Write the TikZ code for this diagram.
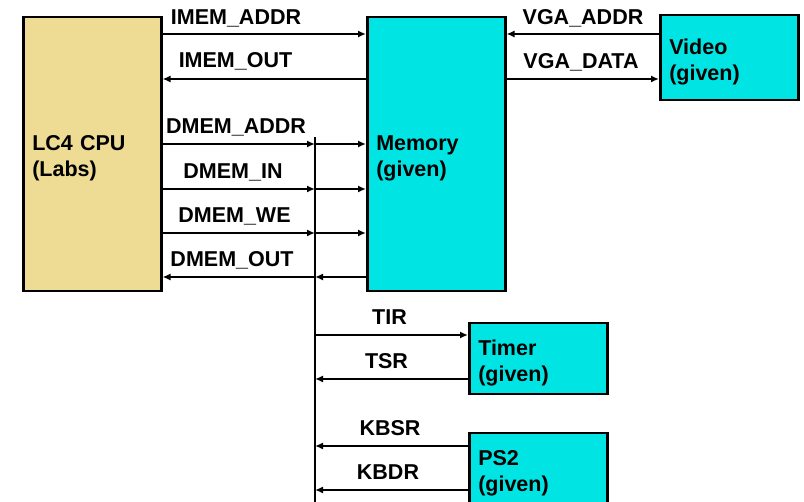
\documentclass[tikz,border=0pt]{standalone}
\usepackage{fontspec}
\setmainfont{Liberation Sans}
\usetikzlibrary{arrows.meta}
\definecolor{cputan}{RGB}{238,220,148}
\definecolor{unitcyan}{RGB}{0,228,228}

\begin{document}
\begin{tikzpicture}[x=1pt,y=-1pt,
		unit/.style={draw,line width=2.5pt,anchor=north west,inner xsep=9pt,inner ysep=0pt,align=left,minimum width=138pt,text width=120pt,font=\fontsize{21.5}{26}\selectfont\bfseries,execute at begin node=\rule{0pt}{23.5pt}},
		sig/.style={line width=2pt,-{Latex[length=8pt,width=7pt]}},
		siglabel/.style={anchor=base,inner sep=0pt,font=\fontsize{21.5}{26}\selectfont\bfseries}]
		\useasboundingbox (0,0) rectangle (804,502);
		\coordinate (bus_top) at (315,137);
		\coordinate (bus_bot) at (315,502);
		\node[unit,fill=cputan,minimum height=274pt] (cpu) at (22,16) {LC4 CPU\\(Labs)};
		\node[unit,fill=unitcyan,minimum height=274pt] (mem) at (366,16) {Memory\\(given)};
		\node[unit,fill=unitcyan,minimum height=85pt] (video) at (659,14) {Video\\(given)};
		\node[unit,fill=unitcyan,minimum height=71pt] (timer) at (468,322) {Timer\\(given)};
		\node[unit,fill=unitcyan,minimum height=72pt] (ps2) at (468,432) {PS2\\(given)};

		\draw[line width=2.5pt] (bus_top)--(bus_bot);

		\draw[sig] (cpu.east |- 0,34)--(mem.west |- 0,34);
		\draw[sig] (mem.west |- 0,79)--(cpu.east |- 0,79);
		\draw[sig] (video.west |- 0,34)--(mem.east |- 0,34);
		\draw[sig] (mem.east |- 0,79)--(video.west |- 0,79);

		\draw[sig] (cpu.east |- 0,144)--(bus_top |- 0,144);
		\draw[sig] (bus_top |- 0,144)--(mem.west |- 0,144);
		\draw[sig] (cpu.east |- 0,189)--(bus_top |- 0,189);
		\draw[sig] (bus_top |- 0,189)--(mem.west |- 0,189);
		\draw[sig] (cpu.east |- 0,233)--(bus_top |- 0,233);
		\draw[sig] (bus_top |- 0,233)--(mem.west |- 0,233);
		\draw[sig] (mem.west |- 0,277)--(bus_top |- 0,277);
		\draw[sig] (bus_top |- 0,277)--(cpu.east |- 0,277);

		\draw[sig] (bus_top |- 0,335)--(timer.west |- 0,335);
		\draw[sig] (timer.west |- 0,379)--(bus_top |- 0,379);
		\draw[sig] (ps2.west |- 0,446)--(bus_top |- 0,446);
		\draw[sig] (ps2.west |- 0,490)--(bus_top |- 0,490);

		\node[siglabel] (imem_addr) at (236,25) {IMEM\_ADDR};
		\node[siglabel] (imem_out) at (235.5,68) {IMEM\_OUT};
		\node[siglabel] (vga_addr) at (583,25) {VGA\_ADDR};
		\node[siglabel] (vga_data) at (581,69) {VGA\_DATA};
		\node[siglabel] (dmem_addr) at (236,134) {DMEM\_ADDR};
		\node[siglabel] (dmem_in) at (233,179) {DMEM\_IN};
		\node[siglabel] (dmem_we) at (234.5,223) {DMEM\_WE};
		\node[siglabel] (dmem_out) at (232,267) {DMEM\_OUT};
		\node[siglabel] (tir) at (389.5,325) {TIR};
		\node[siglabel] (tsr) at (386.5,369) {TSR};
		\node[siglabel] (kbsr) at (390,436) {KBSR};
		\node[siglabel] (kbdr) at (388,480) {KBDR};
	\end{tikzpicture}
\end{document}
